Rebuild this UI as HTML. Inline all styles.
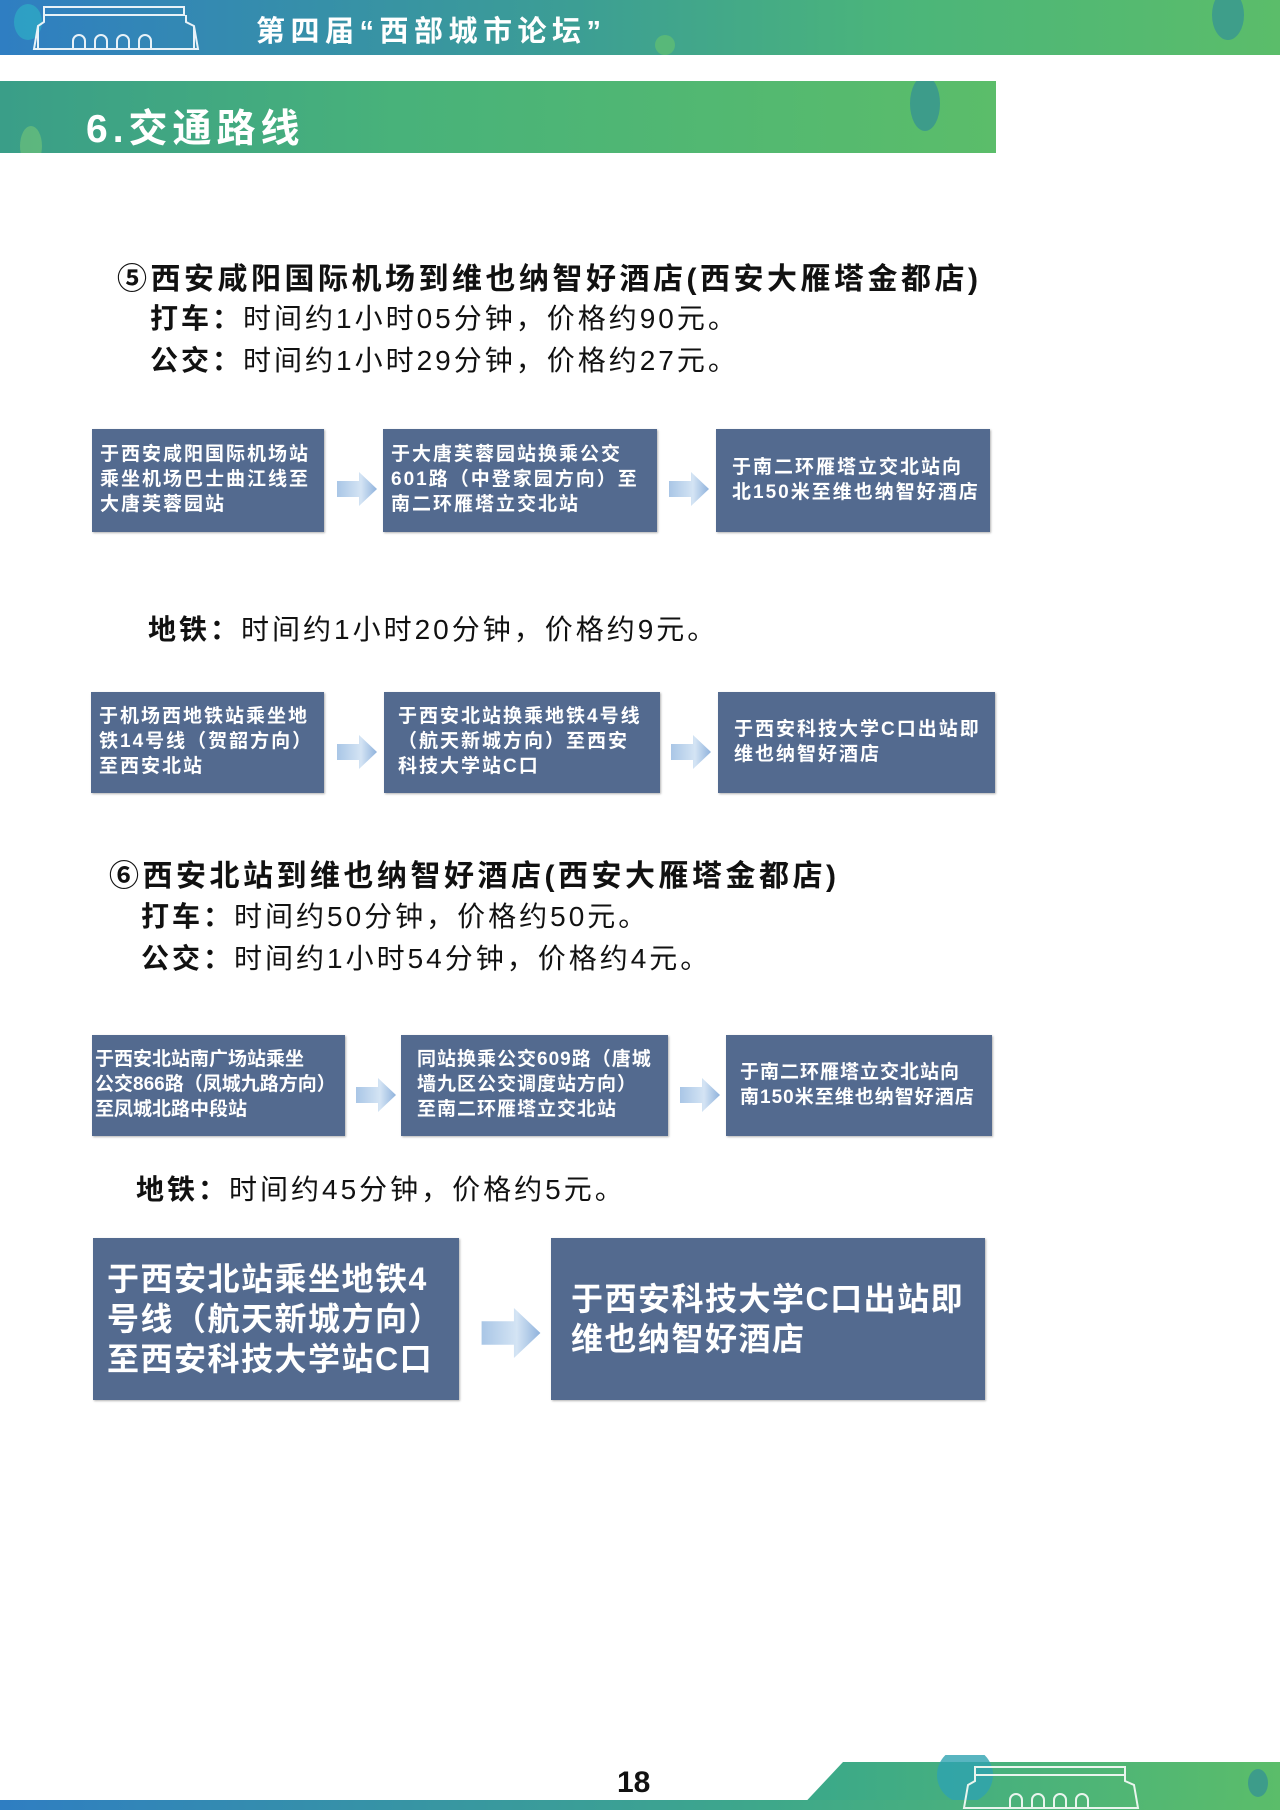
<!DOCTYPE html>
<html><head><meta charset="utf-8"><style>
*{margin:0;padding:0;box-sizing:border-box}
body{width:1280px;height:1810px;background:#fff;position:relative;overflow:hidden;font-family:"Liberation Sans","Noto Sans CJK SC",sans-serif}
.a{position:absolute;white-space:nowrap}
.hd{font-weight:bold;font-size:30px;color:#111;letter-spacing:3.5px}
.ln{font-size:28px;color:#111;letter-spacing:3px}
.ln b{font-weight:bold}
.bx{position:absolute;background:#536a8f;color:#fff;font-weight:bold;display:flex;align-items:center;padding-left:8px;line-height:1.3;box-shadow:1px 1px 2px rgba(0,0,0,.3);white-space:nowrap;overflow:hidden}
.s{font-size:19px;letter-spacing:2px}
.arr{position:absolute}
</style></head><body>
<div class="a" style="left:0;top:0;width:1280px;height:55px;background:linear-gradient(90deg,#2f7ec2 0%,#3c9e94 45%,#4bb57a 70%,#5bbd6a 100%)"></div>
<div class="a" style="left:14px;top:4px;width:28px;height:36px;border-radius:50%;background:#2ea7c4;opacity:.8"></div>
<div class="a" style="left:1212px;top:-10px;width:32px;height:50px;border-radius:50%;background:#3e9e8a"></div>
<div class="a" style="left:655px;top:35px;width:20px;height:20px;border-radius:50%;background:#62c070;opacity:.7"></div>
<svg class="a" style="left:28px;top:4px" width="180" height="48" viewBox="0 0 180 48"><g fill="none" stroke="#e8f2f8" stroke-width="2"><rect x="16" y="3" width="140" height="8"/><path d="M16 11 L16 18 L10 22 L6 45 L170 45 L166 22 L158 18 L158 11"/><path d="M10 22 L10 45 M166 22 L166 45"/><path d="M45 45 v-8 a6 6 0 0 1 12 0 v8 M67 45 v-8 a6 6 0 0 1 12 0 v8 M89 45 v-8 a6 6 0 0 1 12 0 v8 M111 45 v-8 a6 6 0 0 1 12 0 v8"/></g></svg>
<div class="a" style="left:256px;top:8px;font-size:29px;font-weight:bold;color:#fff;letter-spacing:5.5px">第四届“西部城市论坛”</div>

<div class="a" style="left:0;top:81px;width:996px;height:72px;background:linear-gradient(90deg,#3a9e88 0%,#48b27a 40%,#5bbd6a 100%);overflow:hidden">
<div style="position:absolute;left:910px;top:-5px;width:30px;height:55px;border-radius:50%;background:#3d9c8a"></div>
<div style="position:absolute;left:20px;top:45px;width:22px;height:40px;border-radius:50%;background:#6cc07a;opacity:.7"></div>
</div>
<div class="a" style="left:86px;top:98px;font-size:39px;font-weight:bold;color:#fff;letter-spacing:5px">6.交通路线</div>

<div class="a hd" style="left:117px;top:254px">⑤西安咸阳国际机场到维也纳智好酒店(西安大雁塔金都店)</div>
<div class="a ln" style="left:150px;top:297px"><b>打车：</b>时间约1小时05分钟，价格约90元。</div>
<div class="a ln" style="left:150px;top:339px"><b>公交：</b>时间约1小时29分钟，价格约27元。</div>

<div class="bx s" style="left:92px;top:429px;width:232px;height:103px">于西安咸阳国际机场站<br>乘坐机场巴士曲江线至<br>大唐芙蓉园站</div>
<div class="bx s" style="left:383px;top:429px;width:274px;height:103px">于大唐芙蓉园站换乘公交<br>601路（中登家园方向）至<br>南二环雁塔立交北站</div>
<div class="bx s" style="left:716px;top:429px;width:274px;height:103px;padding-left:16px">于南二环雁塔立交北站向<br>北150米至维也纳智好酒店</div>

<div class="a ln" style="left:148px;top:608px"><b>地铁：</b>时间约1小时20分钟，价格约9元。</div>

<div class="bx s" style="left:91px;top:692px;width:233px;height:101px">于机场西地铁站乘坐地<br>铁14号线（贺韶方向）<br>至西安北站</div>
<div class="bx s" style="left:384px;top:692px;width:276px;height:101px;padding-left:14px">于西安北站换乘地铁4号线<br>（航天新城方向）至西安<br>科技大学站C口</div>
<div class="bx s" style="left:718px;top:692px;width:277px;height:101px;padding-left:16px">于西安科技大学C口出站即<br>维也纳智好酒店</div>

<div class="a hd" style="left:109px;top:851px">⑥西安北站到维也纳智好酒店(西安大雁塔金都店)</div>
<div class="a ln" style="left:141px;top:895px"><b>打车：</b>时间约50分钟，价格约50元。</div>
<div class="a ln" style="left:141px;top:937px"><b>公交：</b>时间约1小时54分钟，价格约4元。</div>

<div class="bx s" style="left:92px;top:1035px;width:253px;height:101px;padding-left:3px;letter-spacing:0px">于西安北站南广场站乘坐<br>公交866路（凤城九路方向）<br>至凤城北路中段站</div>
<div class="bx s" style="left:401px;top:1035px;width:267px;height:101px;padding-left:16px;letter-spacing:1px">同站换乘公交609路（唐城<br>墙九区公交调度站方向）<br>至南二环雁塔立交北站</div>
<div class="bx s" style="left:726px;top:1035px;width:266px;height:101px;padding-left:14px;letter-spacing:1px">于南二环雁塔立交北站向<br>南150米至维也纳智好酒店</div>

<div class="a ln" style="left:136px;top:1168px"><b>地铁：</b>时间约45分钟，价格约5元。</div>

<div class="bx" style="left:93px;top:1238px;width:366px;height:162px;font-size:32px;padding-left:14px;line-height:1.25;letter-spacing:1.5px">于西安北站乘坐地铁4<br>号线（航天新城方向）<br>至西安科技大学站C口</div>
<div class="bx" style="left:551px;top:1238px;width:434px;height:162px;font-size:32px;padding-left:20px;line-height:1.25;letter-spacing:1.5px">于西安科技大学C口出站即<br>维也纳智好酒店</div>

<svg width="0" height="0" style="position:absolute"><defs><linearGradient id="g" x1="0" x2="1"><stop offset="0" stop-color="#a9c6e6"/><stop offset=".6" stop-color="#d4e4f4"/><stop offset="1" stop-color="#8fb2dc"/></linearGradient></defs></svg>
<svg class="arr" style="left:337px;top:472px" width="40" height="34" viewBox="0 0 40 34"><path d="M0 9 H22 V0 L40 17 L22 34 V25 H0Z" fill="url(#g)"/></svg>
<svg class="arr" style="left:669px;top:472px" width="40" height="34" viewBox="0 0 40 34"><path d="M0 9 H22 V0 L40 17 L22 34 V25 H0Z" fill="url(#g)"/></svg>
<svg class="arr" style="left:337px;top:735px" width="40" height="34" viewBox="0 0 40 34"><path d="M0 9 H22 V0 L40 17 L22 34 V25 H0Z" fill="url(#g)"/></svg>
<svg class="arr" style="left:671px;top:735px" width="40" height="34" viewBox="0 0 40 34"><path d="M0 9 H22 V0 L40 17 L22 34 V25 H0Z" fill="url(#g)"/></svg>
<svg class="arr" style="left:356px;top:1078px" width="40" height="34" viewBox="0 0 40 34"><path d="M0 9 H22 V0 L40 17 L22 34 V25 H0Z" fill="url(#g)"/></svg>
<svg class="arr" style="left:680px;top:1078px" width="40" height="34" viewBox="0 0 40 34"><path d="M0 9 H22 V0 L40 17 L22 34 V25 H0Z" fill="url(#g)"/></svg>
<svg class="arr" style="left:480px;top:1308px" width="62" height="50" viewBox="0 0 40 34"><path d="M0 9 H22 V0 L40 17 L22 34 V25 H0Z" fill="url(#g)"/></svg>

<div class="a" style="left:617px;top:1766px;font-size:30px;font-weight:bold;color:#111">18</div>
<svg class="a" style="left:0;top:1755px" width="1280" height="55" viewBox="0 0 1280 55">
<defs><linearGradient id="b" x1="0" x2="1"><stop offset="0" stop-color="#2f7ec2"/><stop offset=".6" stop-color="#3ea88a"/><stop offset="1" stop-color="#5bbd6a"/></linearGradient>
<linearGradient id="t" x1="0" x2="1"><stop offset="0" stop-color="#3aa88a"/><stop offset="1" stop-color="#5bbd6a"/></linearGradient></defs>
<path d="M843 7 H1280 V55 H798 Z" fill="url(#t)"/>
<ellipse cx="965" cy="20" rx="28" ry="28" fill="#2ea3b0" opacity=".8"/>
<ellipse cx="1258" cy="28" rx="10" ry="14" fill="#3d9c8a"/>
<rect x="0" y="45" width="1280" height="10" fill="url(#b)"/>
<g fill="none" stroke="#eaf5ee" stroke-width="2"><rect x="975" y="12" width="150" height="8"/><path d="M975 20 L975 26 L968 30 L964 53 L1138 53 L1134 30 L1125 26 L1125 20"/><path d="M1010 53 v-8 a6 6 0 0 1 12 0 v8 M1032 53 v-8 a6 6 0 0 1 12 0 v8 M1054 53 v-8 a6 6 0 0 1 12 0 v8 M1076 53 v-8 a6 6 0 0 1 12 0 v8"/></g>
</svg>
</body></html>
